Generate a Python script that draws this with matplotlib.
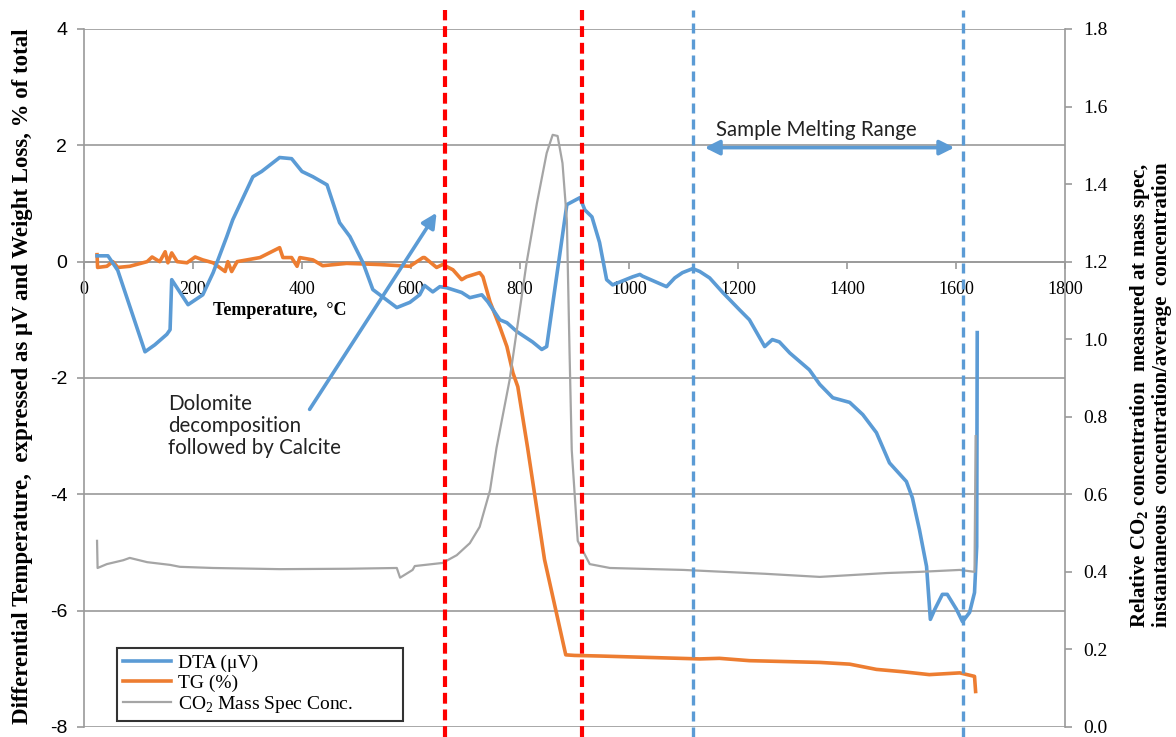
"""
DTA / TG / CO2 mass spec chart of a dolomite sample heated up to melting.
"""

import matplotlib

matplotlib.use("Agg")

import matplotlib.pyplot as plt
from matplotlib.lines import Line2D

SERIF = "Liberation Serif"
SANS = "Liberation Sans"
NOTE = "Lato"

matplotlib.rc("mathtext", fontset="custom", rm=SERIF, bf=SERIF + ":bold")
matplotlib.rc("axes", unicode_minus=False)

# DTA signal (uV), left axis
dta_temp = [24, 44, 62, 112, 130, 152, 158, 161, 191, 218, 237, 262, 273, 310,
            326, 359, 381, 400, 420, 446, 469, 488, 512, 530, 574, 598, 616,
            625, 640, 653, 666, 693, 708, 730, 741, 763, 776, 794, 823, 840,
            849, 869, 886, 910, 919, 932, 946, 959, 970, 1007, 1020, 1025,
            1047, 1069, 1084, 1098, 1117, 1130, 1148, 1172, 1203, 1221, 1249,
            1263, 1276, 1295, 1331, 1350, 1374, 1405, 1429, 1454, 1478, 1509,
            1520, 1533, 1546, 1553, 1561, 1575, 1584, 1601, 1612, 1625, 1634,
            1638, 1639]
dta_uv = [0.1, 0.1, -0.15, -1.55, -1.43, -1.25, -1.17, -0.31, -0.74, -0.57,
          -0.19, 0.43, 0.72, 1.46, 1.55, 1.79, 1.77, 1.55, 1.46, 1.32, 0.67,
          0.43, -0.02, -0.48, -0.79, -0.70, -0.57, -0.41, -0.52, -0.43, -0.45,
          -0.53, -0.62, -0.57, -0.69, -1.0, -1.05, -1.2, -1.38, -1.51, -1.46,
          -0.14, 0.98, 1.1, 0.89, 0.77, 0.33, -0.31, -0.40, -0.26, -0.22,
          -0.25, -0.34, -0.43, -0.28, -0.19, -0.12, -0.17, -0.28, -0.53,
          -0.83, -1.0, -1.46, -1.34, -1.38, -1.57, -1.86, -2.11, -2.34, -2.42,
          -2.63, -2.94, -3.46, -3.78, -4.06, -4.61, -5.24, -6.15, -5.98,
          -5.72, -5.72, -5.98, -6.19, -6.03, -5.69, -4.9, -1.22]

# TG weight loss (%), left axis
tg_temp = [24, 25, 42, 53, 62, 84, 116, 125, 139, 149, 154, 161, 171, 189,
           204, 218, 237, 259, 264, 271, 281, 323, 359, 365, 381, 391, 396,
           420, 438, 482, 543, 598, 622, 625, 647, 658, 677, 693, 702, 726,
           732, 745, 763, 776, 787, 796, 814, 845, 884, 900, 946, 1130, 1166,
           1221, 1350, 1405, 1454, 1502, 1551, 1607, 1634, 1636]
tg_pct = [0.12, -0.1, -0.08, 0.0, -0.1, -0.08, 0.0, 0.08, 0.0, 0.17, -0.02,
          0.15, 0.0, -0.02, 0.08, 0.03, -0.02, -0.17, 0.0, -0.17, 0.0, 0.07,
          0.24, 0.07, 0.07, -0.08, 0.07, 0.03, -0.07, -0.03, -0.05, -0.08,
          0.07, 0.07, -0.1, -0.05, -0.14, -0.31, -0.26, -0.19, -0.26, -0.69,
          -1.12, -1.46, -1.91, -2.15, -3.2, -5.12, -6.76, -6.77, -6.78,
          -6.83, -6.82, -6.86, -6.89, -6.92, -7.01, -7.05, -7.1, -7.07,
          -7.13, -7.39]

# relative CO2 concentration from the mass spec, right axis
co2_temp = [24, 25, 42, 72, 84, 116, 158, 176, 237, 359, 482, 574, 580, 603,
            607, 658, 684, 708, 726, 745, 757, 781, 812, 831, 849, 860, 869,
            878, 886, 891, 895, 906, 928, 965, 1100, 1250, 1350, 1473, 1533,
            1607, 1634, 1636]
co2_rel = [0.48, 0.41, 0.42, 0.43, 0.436, 0.425, 0.418, 0.413, 0.41, 0.407,
           0.408, 0.41, 0.385, 0.405, 0.415, 0.423, 0.443, 0.474, 0.516, 0.61,
           0.72, 0.895, 1.196, 1.35, 1.48, 1.527, 1.524, 1.454, 1.307, 0.964,
           0.714, 0.48, 0.42, 0.41, 0.405, 0.395, 0.387, 0.397, 0.40, 0.405,
           0.40, 0.75]

# decomposition limits (red) and melting range (blue)
decomp_lines = [662, 914]
melt_lines = [1117, 1613]

series_labels = ["DTA (\u03bcV)", "TG (%)", "CO$_\\mathrm{2}$ Mass Spec Conc."]

blue, orange, grey = "#5B9BD5", "#ED7D31", "#A5A5A5"
axis_grey = "#9a9a9a"

fig = plt.figure(figsize=(11.76, 7.37), dpi=100)
ax = fig.add_axes([0.0714, 0.0136, 0.8342, 0.9471])

ax.set_xlim(0, 1800)
ax.set_ylim(-8, 4)
ax.set_xticks(range(0, 1801, 200))
ax.set_yticks(range(-8, 5, 2))
ax.grid(axis="y", color=axis_grey, linewidth=1.2)
ax.set_axisbelow(True)

# Excel style: x axis crosses at zero
ax.spines["bottom"].set_position(("data", 0))
ax.spines["top"].set_visible(False)
ax.spines["right"].set_visible(False)
for side in ("bottom", "left"):
    ax.spines[side].set_color(axis_grey)
    ax.spines[side].set_linewidth(1.2)
ax.tick_params(axis="both", color=axis_grey, length=5, width=1.2)
ax.tick_params(axis="x", pad=9)
ax.tick_params(axis="y", pad=7)
for lab in ax.get_xticklabels():
    lab.set_fontfamily(SERIF)
    lab.set_fontsize(13)
for lab in ax.get_yticklabels():
    lab.set_fontfamily(SANS)
    lab.set_fontsize(14)

ax.plot(tg_temp, tg_pct, color=orange, linewidth=2.6, zorder=3)
ax.plot(dta_temp, dta_uv, color=blue, linewidth=2.6, zorder=4)

ax2 = ax.twinx()
ax2.set_ylim(0, 1.8)
ax2.set_yticks([i / 10 for i in range(0, 19, 2)])
ax2.set_yticklabels([f"{i / 10:.1f}" for i in range(0, 19, 2)],
                    fontfamily=SERIF, fontsize=14)
for side in ("top", "left", "bottom"):
    ax2.spines[side].set_visible(False)
ax2.spines["right"].set_color(axis_grey)
ax2.spines["right"].set_linewidth(1.2)
ax2.tick_params(axis="y", color=axis_grey, length=5, width=1.2, pad=8)
ax2.plot(co2_temp, co2_rel, color=grey, linewidth=1.6, zorder=2)

# dashed markers reach a little over the frame
for x in decomp_lines:
    ax2.axvline(x, ymin=-0.015, ymax=1.027, color="#FF0000", linewidth=3,
                linestyle=(0, (2.6, 1.4)), clip_on=False, zorder=5)
for x in melt_lines:
    ax2.axvline(x, ymin=-0.015, ymax=1.027, color=blue, linewidth=2.4,
                linestyle=(0, (3, 1.8)), clip_on=False, zorder=5)

# notes and arrows
ax.annotate("", xy=(647, 0.84), xytext=(414, -2.54),
            arrowprops=dict(arrowstyle="-|>", color=blue, lw=2.6,
                            mutation_scale=22, shrinkA=0, shrinkB=0))
ax.text(154, -2.27, "Dolomite\ndecomposition\nfollowed by Calcite",
        fontfamily=NOTE, fontsize=14.8, color="#222222", ha="left", va="top",
        linespacing=1.15)
ax.annotate("", xy=(1597, 1.96), xytext=(1139, 1.96),
            arrowprops=dict(arrowstyle="<|-|>", color=blue, lw=2.6,
                            mutation_scale=22, shrinkA=0, shrinkB=0))
ax.text(1344, 2.27, "Sample Melting Range", fontfamily=NOTE, fontsize=14.8,
        color="#222222", ha="center", va="center")
ax.text(359, -0.84, "Temperature,  \u00b0C", fontfamily=SERIF,
        fontweight="bold", fontsize=13, ha="center", va="center")

# axis titles
fig.text(0.019, 0.49,
         "Differential Temperature,  expressed as \u03bcV and Weight Loss, % of total",
         rotation=90, ha="center", va="center", fontfamily=SERIF,
         fontweight="bold", fontsize=16.5)
fig.text(0.978, 0.464,
         "Relative CO$_\\mathbf{2}$ concentration  measured at mass spec,\n"
         "instantaneous  concentration/average  concentration",
         rotation=90, ha="center", va="center", fontfamily=SERIF,
         fontweight="bold", fontsize=15, linespacing=1.0)

handles = [Line2D([], [], color=blue, linewidth=2.6),
           Line2D([], [], color=orange, linewidth=2.6),
           Line2D([], [], color=grey, linewidth=1.6)]
lgd = ax2.legend(handles, series_labels, loc="lower left",
                 bbox_to_anchor=(0.0336, 0.0086, 0.2915, 0.1003),
                 mode="expand", borderaxespad=0, borderpad=0.3,
                 prop={"family": SERIF, "size": 14}, handlelength=2.5,
                 handletextpad=0.35, labelspacing=0.12, fancybox=False,
                 framealpha=1, edgecolor="#333333")
lgd.get_frame().set_linewidth(1.5)
lgd.set_zorder(10)

fig.savefig("out.png", dpi=100)
